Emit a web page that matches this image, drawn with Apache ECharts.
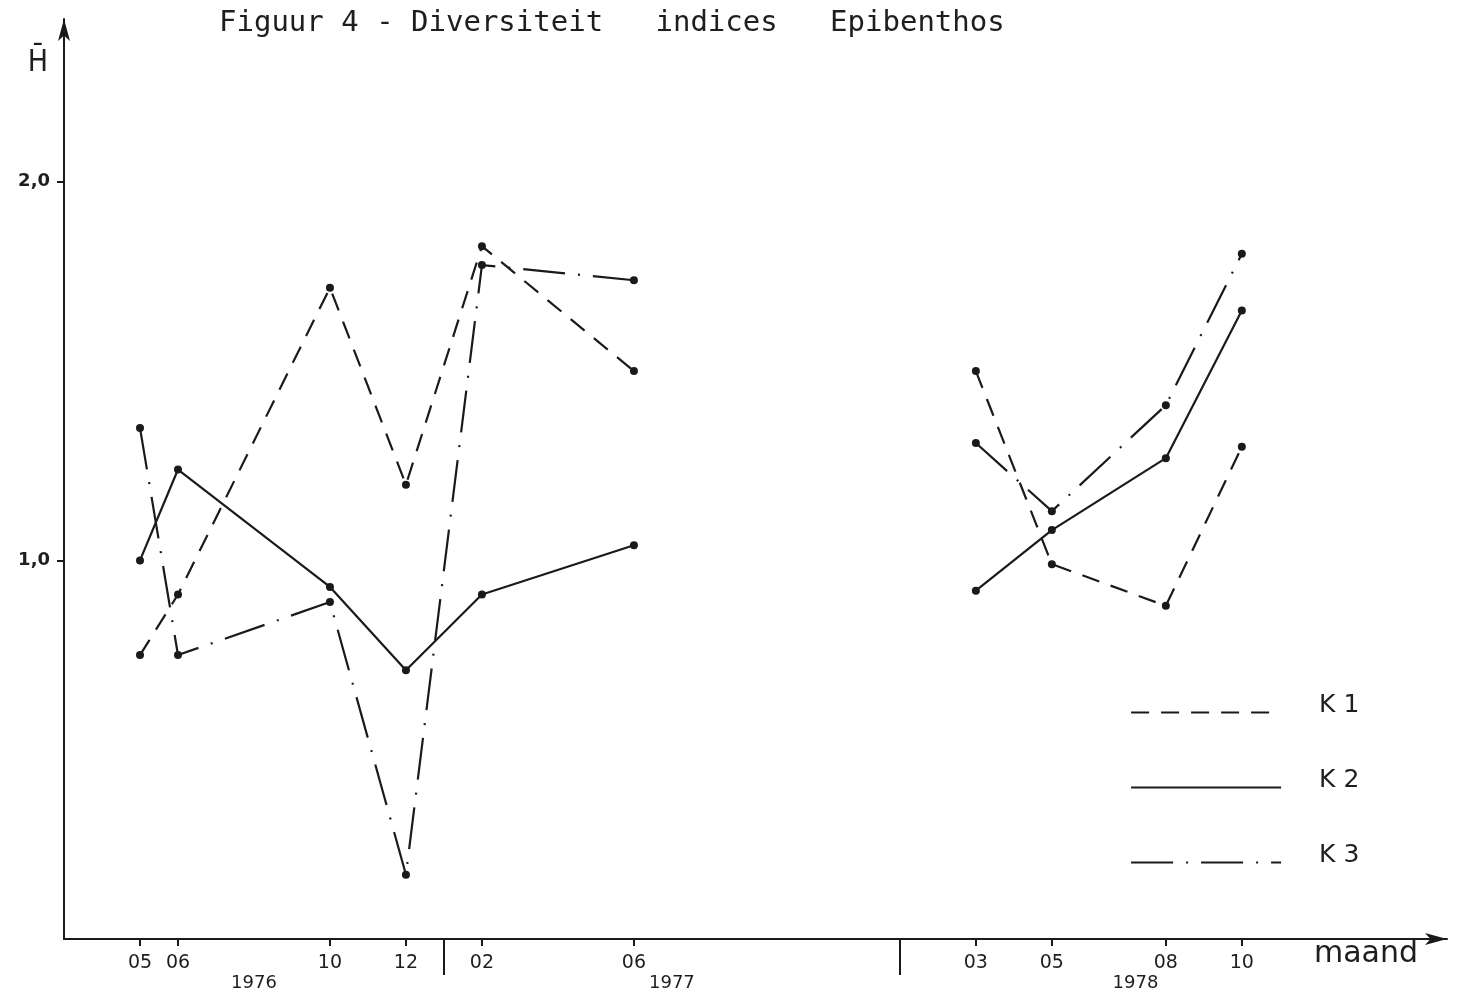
<!DOCTYPE html>
<html><head><meta charset="utf-8">
<script src="https://cdn.jsdelivr.net/npm/echarts@6/dist/echarts.min.js"></script>
<style>html,body{margin:0;padding:0;background:#fff}#c{width:1462px;height:998px}</style>
</head><body><div id="c"></div>
<script>
// x values: months counted from 05/1976 (0 = May 1976)
const months7677 = [0, 1, 5, 7, 9, 13];
const months78 = [22, 24, 27, 29];
const k1_7677 = [0.75, 0.91, 1.72, 1.20, 1.83, 1.50];
const k1_78 = [1.50, 0.99, 0.88, 1.30];
const k2_7677 = [1.00, 1.24, 0.93, 0.71, 0.91, 1.04];
const k2_78 = [0.92, 1.08, 1.27, 1.66];
const k3_7677 = [1.35, 0.75, 0.89, 0.17, 1.78, 1.74];
const k3_78 = [1.31, 1.13, 1.41, 1.81];
const monthTicks = [0, 1, 5, 7, 9, 13, 22, 24, 27, 29];
const monthLabels = ['05', '06', '10', '12', '02', '06', '03', '05', '08', '10'];
const yearBreaks = [8, 20];
const yearPos = [3, 14, 26.2];
const yearLabels = ['1976', '1977', '1978'];
const yTicks = [1, 2];
const yLabels = ['1,0', '2,0'];
const seriesNames = ['K 1', 'K 2', 'K 3'];

const ink = '#1a1a1a';
const dashK1 = [18, 12];
const dashK3 = [42, 13, 2, 13];

function mk(name, xs, ys, type) {
  return {
    name: name, type: 'line', data: xs.map((x, i) => [x, ys[i]]),
    symbol: 'circle', symbolSize: 8, showSymbol: true,
    lineStyle: { color: ink, width: 2.2, type: type },
    itemStyle: { color: ink },
    emphasis: { disabled: true }, silent: true
  };
}

const chart = echarts.init(document.getElementById('c'), null, { renderer: 'canvas' });
const xRange = { min: -2, max: 34.4 };
chart.setOption({
  animation: false,
  backgroundColor: '#fff',
  title: {
    text: 'Figuur 4 - Diversiteit   indices   Epibenthos',
    left: 214, top: 4,
    textStyle: { fontFamily: 'DejaVu Sans Mono', fontSize: 29, fontWeight: 'normal', color: '#1e1e1e' }
  },
  grid: { left: 64, top: 19, width: 1383, height: 920, containLabel: false },
  legend: {
    data: seriesNames, orient: 'vertical', left: 1130, top: 693, padding: 0,
    itemWidth: 150, itemHeight: 24, itemGap: 36,
    itemStyle: { opacity: 0 }, lineStyle: { width: 2.2 },
    formatter: '{t|{name}}',
    textStyle: {
      fontFamily: 'DejaVu Sans', fontSize: 25, color: '#1e1e1e', padding: [0, 0, 0, 33],
      rich: { t: { fontFamily: 'DejaVu Sans', fontSize: 25, lineHeight: 24, color: '#1e1e1e', padding: [0, 0, 14, 0] } }
    },
    selectedMode: false
  },
  xAxis: [
    {
      type: 'value', min: xRange.min, max: xRange.max,
      name: 'maand', nameLocation: 'end', nameGap: -29,
      nameTextStyle: { fontFamily: 'DejaVu Sans', fontSize: 30, color: '#1e1e1e', align: 'right', verticalAlign: 'top', padding: [0, 0, 0, 0] },
      axisLine: { show: true, onZero: false, symbol: ['none', 'arrow'], symbolSize: [9, 22], lineStyle: { color: ink, width: 2 } },
      axisTick: { show: true, customValues: monthTicks, length: 7, lineStyle: { color: ink, width: 2 } },
      axisLabel: {
        customValues: monthTicks, margin: 15, fontFamily: 'DejaVu Sans', fontSize: 19, color: '#1e1e1e',
        formatter: v => { const i = monthTicks.indexOf(v); return i >= 0 ? monthLabels[i] : ''; }
      },
      splitLine: { show: false }
    },
    {
      type: 'value', min: xRange.min, max: xRange.max, position: 'bottom',
      axisLine: { show: false, onZero: false },
      axisTick: { show: true, customValues: yearBreaks, length: 36, lineStyle: { color: ink, width: 2 } },
      axisLabel: { show: false }, splitLine: { show: false }
    },
    {
      type: 'value', min: xRange.min, max: xRange.max, position: 'bottom',
      axisLine: { show: false, onZero: false }, axisTick: { show: false },
      axisLabel: {
        customValues: yearPos, margin: 35, fontFamily: 'DejaVu Sans', fontSize: 18, color: '#1e1e1e',
        formatter: v => { const i = yearPos.indexOf(v); return i >= 0 ? yearLabels[i] : ''; }
      },
      splitLine: { show: false }
    }
  ],
  yAxis: {
    type: 'value', min: 0, max: 2.43,
    name: 'H\u0304', nameLocation: 'end', nameGap: -44,
    nameTextStyle: { fontFamily: 'DejaVu Sans Condensed', fontSize: 30, color: '#1e1e1e', align: 'right', verticalAlign: 'middle', padding: [0, 16, 0, 0] },
    axisLine: { show: true, onZero: false, symbol: ['none', 'arrow'], symbolSize: [9, 22], lineStyle: { color: ink, width: 2 } },
    axisTick: { show: true, customValues: yTicks, length: 7, lineStyle: { color: ink, width: 2 } },
    axisLabel: {
      customValues: yTicks, margin: 14, fontFamily: 'DejaVu Sans', fontSize: 18, fontWeight: 'bold', color: '#1e1e1e',
      formatter: v => { const i = yTicks.indexOf(v); return i >= 0 ? yLabels[i] : ''; }
    },
    splitLine: { show: false }
  },
  series: [
    mk('K 1', months7677, k1_7677, dashK1),
    mk('K 1', months78, k1_78, dashK1),
    mk('K 2', months7677, k2_7677, 'solid'),
    mk('K 2', months78, k2_78, 'solid'),
    mk('K 3', months7677, k3_7677, dashK3),
    mk('K 3', months78, k3_78, dashK3)
  ]
});
</script>
</body></html>
